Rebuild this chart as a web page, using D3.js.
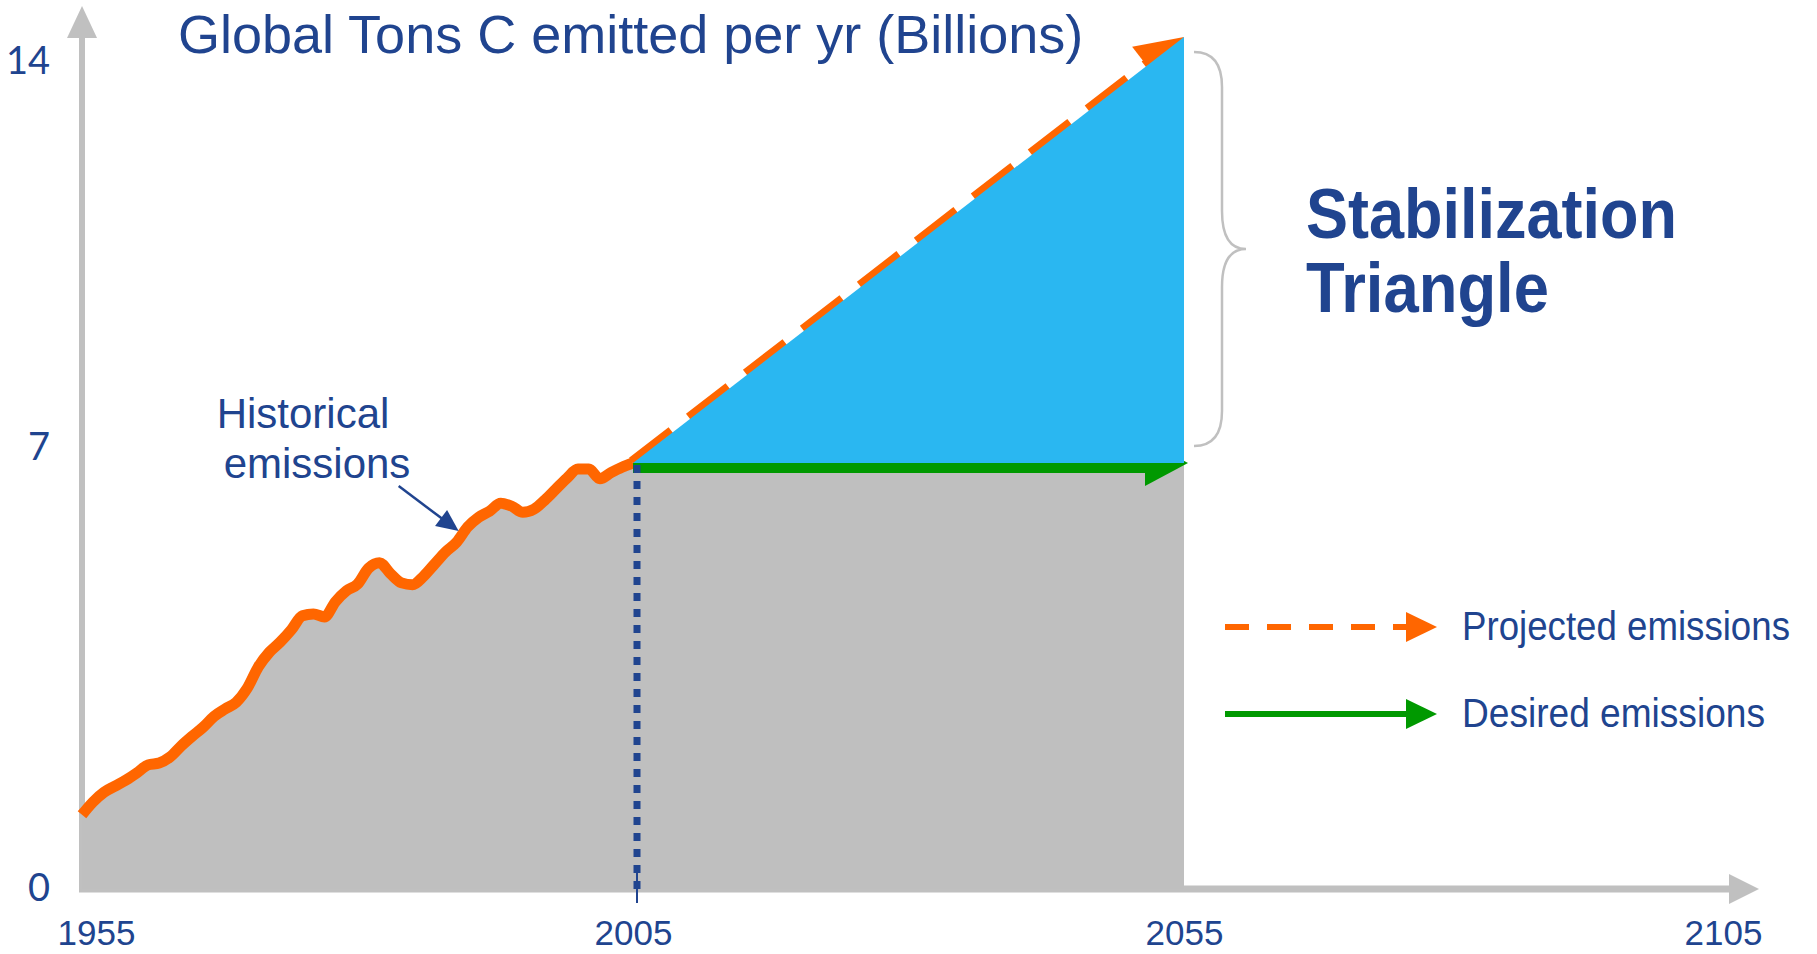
<!DOCTYPE html>
<html>
<meta charset="utf-8">
<style>
body {
	margin: 0;
	background: #fff;
}

svg {
	display: block;
}

.label {
	fill: #20448f;
	font-family: "Liberation Sans", Arial, sans-serif;
}
</style>

<body>
<svg id="chart" width="1817" height="954"></svg>

<script src="https://d3js.org/d3.v7.min.js"></script>

<script>
// historical emissions, billion tons C per year
var histYears = d3.range(1955, 2006);
var histValues = [1.22, 1.43, 1.59, 1.69, 1.79, 1.91, 2.04, 2.07, 2.17, 2.35,
	2.51, 2.66, 2.84, 2.96, 3.07, 3.30, 3.65, 3.89, 4.06, 4.26,
	4.49, 4.52, 4.47, 4.72, 4.90, 5.01, 5.27, 5.36, 5.18, 5.03,
	5.00, 5.14, 5.34, 5.54, 5.70, 5.95, 6.11, 6.21, 6.34, 6.29,
	6.19, 6.24, 6.39, 6.57, 6.75, 6.90, 6.90, 6.74, 6.84, 6.93,
	7.00];

var futureYears = [2005, 2055];
var projected = [7, 14];
var desired = [7, 7];

var xTicks = [1955, 2005, 2055, 2105];
var yTicks = [0, 7, 14];

var navy = "#20448f",
	orange = "#ff6600",
	green = "#009900",
	sky = "#2ab7f1",
	grey = "#bfbfbf",
	axisGrey = "#c0c0c0";

var hist = histYears.map(function(d, i) { return {year: d, value: histValues[i]}; });
var proj = futureYears.map(function(d, i) { return {year: d, value: projected[i]}; });
var want = futureYears.map(function(d, i) { return {year: d, value: desired[i]}; });

var svg = d3.select("#chart");

var x = d3.scaleLinear()
	.domain([1955, 2105])
	.range([82, 1735]);

var y = d3.scaleLinear()
	.domain([0, 14])
	.range([889, 37]);

function headPath(tip, angle, len, half) {
	var c = Math.cos(angle), s = Math.sin(angle);
	var bx = tip[0] - c * len, by = tip[1] - s * len;
	return "M" + tip[0] + "," + tip[1] +
		"L" + (bx - s * half) + "," + (by + c * half) +
		"L" + (bx + s * half) + "," + (by - c * half) + "Z";
}

// line from p0 to p1 ending in a filled head
function arrow(g, p0, p1, color, width, len, half, dash) {
	var a = Math.atan2(p1[1] - p0[1], p1[0] - p0[0]);
	var end = [p1[0] - Math.cos(a) * len * 0.8, p1[1] - Math.sin(a) * len * 0.8];
	g.append("line")
		.attr("x1", p0[0]).attr("y1", p0[1])
		.attr("x2", end[0]).attr("y2", end[1])
		.attr("stroke", color)
		.attr("stroke-width", width)
		.attr("stroke-dasharray", dash || null);
	g.append("path")
		.attr("d", headPath(p1, a, len, half))
		.attr("fill", color);
}

// condensed text: squeeze horizontally to the wanted width
function squeezed(px, py, size, weight, width, str) {
	var t = svg.append("text")
		.attr("class", "label")
		.attr("font-size", size)
		.attr("font-weight", weight)
		.text(str);
	var w = t.node().getComputedTextLength();
	t.attr("transform", "translate(" + px + "," + py + ") scale(" + (width / w) + ",1)");
	return t;
}

// axes lines with arrows
var axes = svg.append("g");
arrow(axes, [x(1955) - 3, y(0)], [x.range()[1] + 24, y(0)], axisGrey, 7, 30, 15);
arrow(axes, [x(1955), y(0) + 3], [x(1955), y(14) - 31], axisGrey, 6, 32, 15);

// grey area under emissions
svg.append("path")
	.datum(hist)
	.attr("fill", grey)
	.attr("d", d3.area()
		.x(function(d) { return x(d.year); })
		.y0(y(0))
		.y1(function(d) { return y(d.value); })
		.curve(d3.curveMonotoneX));

svg.append("path")
	.datum(want)
	.attr("fill", grey)
	.attr("d", d3.area()
		.x(function(d) { return x(d.year); })
		.y0(y(0))
		.y1(function(d) { return y(d.value); }));

// historical line
svg.append("path")
	.datum(hist)
	.attr("fill", "none")
	.attr("stroke", orange)
	.attr("stroke-width", 11)
	.attr("stroke-linejoin", "round")
	.attr("d", d3.line()
		.x(function(d) { return x(d.year); })
		.y(function(d) { return y(d.value); })
		.curve(d3.curveMonotoneX));

// projected (dashed) and desired (flat) paths
var fut = svg.append("g");
arrow(fut, [x(proj[0].year), y(proj[0].value)], [x(proj[1].year), y(proj[1].value)],
	orange, 13, 47, 24, "50,22");

var gy = y(want[0].value);
fut.append("line")
	.attr("x1", x(want[0].year)).attr("y1", gy + 5)
	.attr("x2", x(want[1].year) - 30).attr("y2", gy + 5)
	.attr("stroke", green)
	.attr("stroke-width", 10);
fut.append("path")
	.attr("d", headPath([x(want[1].year) + 4, gy], 0, 43, 23))
	.attr("fill", green);

// stabilization triangle
svg.append("path")
	.attr("fill", sky)
	.attr("d", "M" + x(proj[0].year) + "," + y(proj[0].value) +
		"L" + x(proj[1].year) + "," + y(proj[1].value) +
		"L" + x(want[1].year) + "," + y(want[1].value) + "Z");

// dotted marker at 2005
svg.append("line")
	.attr("x1", x(2005) + 4).attr("x2", x(2005) + 4)
	.attr("y1", y(7) + 2).attr("y2", y(0))
	.attr("stroke", navy)
	.attr("stroke-width", 7)
	.attr("stroke-dasharray", "8,8");
svg.append("line")
	.attr("x1", x(2005) + 4).attr("x2", x(2005) + 4)
	.attr("y1", y(0) - 18).attr("y2", y(0) + 14)
	.attr("stroke", navy)
	.attr("stroke-width", 2);

// tick labels
var xa = svg.append("g")
	.attr("transform", "translate(0," + y(0) + ")")
	.call(d3.axisBottom(x).tickValues(xTicks).tickSize(0).tickPadding(31).tickFormat(d3.format("d")));
xa.select(".domain").remove();
xa.attr("color", navy).attr("font-size", 35).attr("font-family", "Liberation Sans, Arial, sans-serif");
xa.selectAll(".tick text")
	.attr("dx", function(d) { return d == 1955 ? 14 : d == 2105 ? -12 : 0; });

var ya = svg.append("g")
	.attr("transform", "translate(" + x(1955) + ",0)")
	.call(d3.axisLeft(y).tickValues(yTicks).tickSize(0).tickPadding(32));
ya.select(".domain").remove();
ya.attr("color", navy).attr("font-size", 38).attr("font-family", "Lato, sans-serif");
// labels on the slide sit a little inside the 0..14 span
ya.selectAll(".tick text")
	.attr("dy", function(d) { return d == 14 ? "0.95em" : d == 7 ? "-0.1em" : "0.3em"; });

// title
svg.append("text")
	.attr("class", "label")
	.attr("x", 178)
	.attr("y", 53)
	.attr("font-size", 54)
	.text("Global Tons C emitted per yr (Billions)");

// brace next to triangle
var bx0 = x(2055) + 10, bxm = bx0 + 28, bxp = bx0 + 52;
var bt = y(14) + 15, bb = y(7) - 17, bm = (bt + bb) / 2;
svg.append("path")
	.attr("fill", "none")
	.attr("stroke", axisGrey)
	.attr("stroke-width", 2.5)
	.attr("d", "M" + bx0 + "," + bt +
		"Q" + bxm + "," + bt + " " + bxm + "," + (bt + 35) +
		"L" + bxm + "," + (bm - 38) +
		"Q" + bxm + "," + bm + " " + bxp + "," + bm +
		"Q" + bxm + "," + bm + " " + bxm + "," + (bm + 38) +
		"L" + bxm + "," + (bb - 35) +
		"Q" + bxm + "," + bb + " " + bx0 + "," + bb);

squeezed(1306, 238, 70, "bold", 371, "Stabilization");
squeezed(1306, 312, 70, "bold", 243, "Triangle");

// historical annotation
var ann = svg.append("text")
	.attr("class", "label")
	.attr("font-family", "Lato, sans-serif")
	.attr("font-size", 42)
	.attr("text-anchor", "middle");
ann.append("tspan").attr("x", 303).attr("y", 428).text("Historical");
ann.append("tspan").attr("x", 317).attr("y", 478).text("emissions");

var tip = [x(1989) + 2, y(histValues[1989 - 1955]) - 11];
arrow(svg.append("g"), [tip[0] - 60, tip[1] - 45], tip, navy, 2.5, 22, 10);

// legend
var legend = svg.append("g");
var legendItems = [
	{name: "Projected emissions", color: orange, dash: "24,18", y: 627, len: 328},
	{name: "Desired emissions", color: green, dash: null, y: 714, len: 303}
];
legendItems.forEach(function(d) {
	arrow(legend, [1225, d.y], [1437, d.y], d.color, 6, 31, 15, d.dash);
	squeezed(1462, d.y + 13, 40, "normal", d.len, d.name);
});
</script>
</body>
</html>
